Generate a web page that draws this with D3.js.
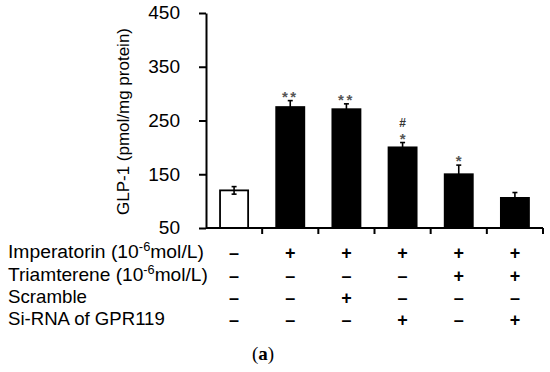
<!DOCTYPE html>
<html>
<head>
<meta charset="utf-8">
<script src="https://cdn.jsdelivr.net/npm/d3@7"></script>
<style>
  html, body { margin: 0; padding: 0; background: #fff; }
  svg { display: block; }
</style>
</head>
<body>
<svg id="chart" width="550" height="372"></svg>
<script>
// ---- data ----
const groups = ["G1", "G2", "G3", "G4", "G5", "G6"];
const means = [120, 275, 271, 200, 150, 106];
const errors = [7, 12, 10, 9, 17, 10];
const fills = ["white", "black", "black", "black", "black", "black"];
const starMarks = ["", "**", "**", "*", "*", ""];
const hashMarks = ["", "", "", "#", "", ""];
const yTicks = [50, 150, 250, 350, 450];
const yLabel = "GLP-1 (pmol/mg protein)";
const rowNames = [
  ["Imperatorin (10", "-6", "mol/L)"],
  ["Triamterene (10", "-6", "mol/L)"],
  ["Scramble", "", ""],
  ["Si-RNA of GPR119", "", ""]
];
const rowSigns = [
  ["-", "+", "+", "+", "+", "+"],
  ["-", "-", "-", "-", "+", "+"],
  ["-", "-", "+", "-", "-", "-"],
  ["-", "-", "-", "+", "-", "+"]
];
const caption = "(a)";

// ---- layout ----
const svg = d3.select("#chart");
const x0 = 206, x1 = 543, yTop = 13, yBot = 228;
const font = "'Liberation Sans', Arial, sans-serif";

const x = d3.scaleBand().domain(groups).range([x0, x1]).paddingInner(0.5).paddingOuter(0.25);
const y = d3.scaleLinear().domain([50, 450]).range([yBot, yTop]);

// bars
svg.append("g").selectAll("rect").data(groups).join("rect")
  .attr("x", d => x(d))
  .attr("y", (d, i) => y(means[i]))
  .attr("width", x.bandwidth())
  .attr("height", (d, i) => yBot - y(means[i]))
  .attr("fill", (d, i) => fills[i])
  .attr("stroke", "black")
  .attr("stroke-width", 1.8);

// error bars
const eb = svg.append("g").attr("stroke", "black").attr("stroke-width", 1.6);
groups.forEach((g, i) => {
  const cx = x(g) + x.bandwidth() / 2;
  eb.append("line").attr("x1", cx).attr("x2", cx)
    .attr("y1", y(means[i] - errors[i])).attr("y2", y(means[i] + errors[i]));
  [means[i] + errors[i], means[i] - errors[i]].forEach(v => {
    eb.append("line").attr("x1", cx - 2.5).attr("x2", cx + 2.5)
      .attr("y1", y(v)).attr("y2", y(v));
  });
});

// significance marks
groups.forEach((g, i) => {
  const cx = x(g) + x.bandwidth() / 2;
  const top = y(means[i] + errors[i]);
  if (hashMarks[i]) {
    svg.append("text").attr("x", cx).attr("y", top - 16)
      .attr("text-anchor", "middle").attr("font-family", font)
      .attr("font-size", 12).attr("font-weight", "bold").attr("fill", "#333")
      .text(hashMarks[i]);
  }
  if (starMarks[i]) {
    svg.append("text").attr("x", cx).attr("y", top + 1)
      .attr("text-anchor", "middle").attr("font-family", font)
      .attr("font-size", 15).attr("font-weight", "bold").attr("fill", "#555")
      .attr("letter-spacing", starMarks[i].length > 1 ? 2.5 : 0)
      .text(starMarks[i]);
  }
});

// y axis
const yAxis = svg.append("g").attr("transform", `translate(${x0},0)`)
  .call(d3.axisLeft(y).tickValues(yTicks).tickSize(7).tickPadding(19).tickSizeOuter(0));
yAxis.select(".domain").attr("stroke", "black").attr("stroke-width", 2);
yAxis.selectAll(".tick line").attr("stroke", "black").attr("stroke-width", 2);
yAxis.selectAll(".tick text").attr("font-family", font).attr("font-size", 18)
  .attr("fill", "black")
  .attr("textLength", d => String(d).length * 10.6)
  .attr("lengthAdjust", "spacingAndGlyphs");

// x axis (ticks at category boundaries)
const boundaries = groups.map(g => x(g) + x.bandwidth() / 2 + x.step() / 2);
svg.append("line").attr("x1", x0).attr("x2", x1).attr("y1", yBot).attr("y2", yBot)
  .attr("stroke", "black").attr("stroke-width", 2);
svg.append("g").selectAll("line").data(boundaries).join("line")
  .attr("x1", d => d).attr("x2", d => d).attr("y1", yBot).attr("y2", yBot + 6)
  .attr("stroke", "black").attr("stroke-width", 2);

// y label
svg.append("text")
  .attr("transform", `translate(129,${(yTop + yBot) / 2 + 1}) rotate(-90)`)
  .attr("text-anchor", "middle")
  .attr("font-family", font).attr("font-size", 17).attr("fill", "black")
  .attr("textLength", 187).attr("lengthAdjust", "spacingAndGlyphs")
  .text(yLabel);

// treatment table
const rowBase = [258, 281, 303, 325];
const rowWidths = [196, 200, 79, 157];
rowNames.forEach((parts, r) => {
  const t = svg.append("text").attr("x", 8).attr("y", rowBase[r])
    .attr("font-family", font).attr("font-size", 18).attr("fill", "black");
  t.append("tspan").text(parts[0]);
  if (parts[1]) {
    t.append("tspan").attr("dy", -7).attr("font-size", 12).text(parts[1]);
    t.append("tspan").attr("dy", 7).text(parts[2]);
  }
  const w = t.node().getBBox().width;
  const k = rowWidths[r] / w;
  t.attr("transform", `translate(8,0) scale(${k},1) translate(-8,0)`);
  groups.forEach((g, i) => {
    const s = rowSigns[r][i];
    svg.append("text")
      .attr("x", x(g) + x.bandwidth() / 2)
      .attr("y", rowBase[r] + 1)
      .attr("text-anchor", "middle")
      .attr("font-family", font).attr("font-size", 18).attr("font-weight", "bold")
      .attr("fill", "black")
      .text(s === "-" ? "\u2013" : s);
  });
});

// caption
svg.append("text").attr("x", 263).attr("y", 360).attr("text-anchor", "middle")
  .attr("font-family", "'Liberation Serif', 'Times New Roman', serif")
  .attr("font-size", 19).attr("fill", "black")
  .html('(<tspan font-weight="bold">a</tspan>)');
</script>
</body>
</html>
